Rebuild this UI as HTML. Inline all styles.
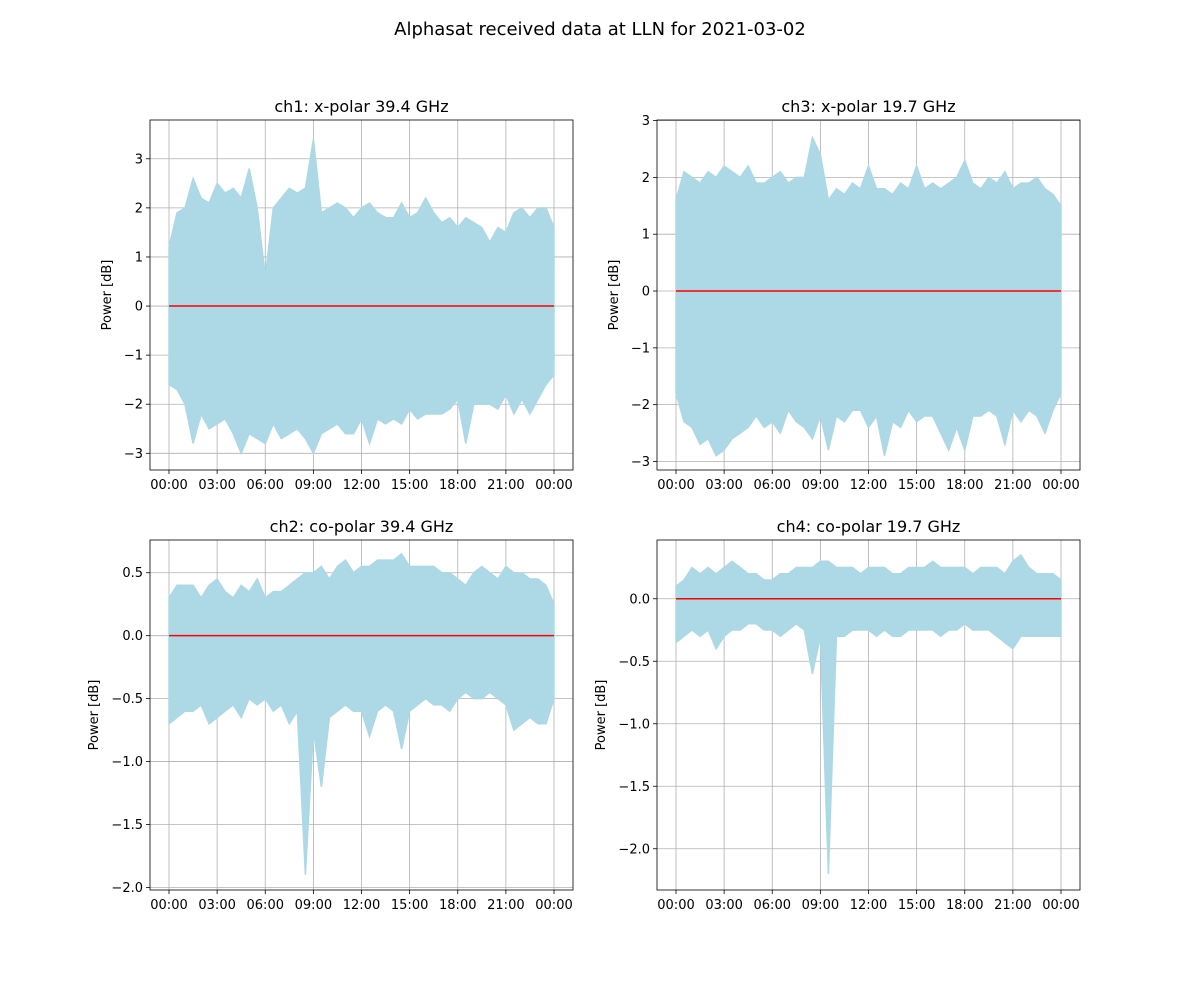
<!DOCTYPE html>
<html><head><meta charset="utf-8">
<style>
html,body{margin:0;padding:0;background:#fff;}
svg{display:block;font-family:"DejaVu Sans","Liberation Sans",sans-serif;}
</style></head>
<body>
<svg id="fig" width="1200" height="1000" viewBox="0 0 1200 1000">
<text x="600" y="35" font-size="18" text-anchor="middle">Alphasat received data at LLN for 2021-03-02</text>
</svg>
<script>
const hours = [];
for (let i = 0; i <= 48; i++) hours.push(i * 0.5);
const xTickLabels = ["00:00","03:00","06:00","09:00","12:00","15:00","18:00","21:00","00:00"];
const xTickHours = [0,3,6,9,12,15,18,21,24];

const ch1Upper = [1.2,1.9,2.0,2.6,2.2,2.1,2.5,2.3,2.4,2.2,2.8,2.0,0.6,2.0,2.2,2.4,2.3,2.4,3.4,1.9,2.0,2.1,2.0,1.8,2.0,2.1,1.9,1.8,1.8,2.1,1.8,1.9,2.2,1.9,1.7,1.8,1.6,1.8,1.7,1.6,1.3,1.6,1.5,1.9,2.0,1.8,2.0,2.0,1.6];
const ch1Lower = [-1.6,-1.7,-2.0,-2.8,-2.2,-2.5,-2.4,-2.3,-2.6,-3.0,-2.6,-2.7,-2.8,-2.4,-2.7,-2.6,-2.5,-2.7,-3.0,-2.6,-2.5,-2.4,-2.6,-2.6,-2.3,-2.8,-2.3,-2.4,-2.3,-2.4,-2.1,-2.3,-2.2,-2.2,-2.2,-2.1,-1.9,-2.8,-2.0,-2.0,-2.0,-2.1,-1.8,-2.2,-1.9,-2.2,-1.9,-1.6,-1.4];
const ch3Upper = [1.6,2.1,2.0,1.9,2.1,2.0,2.2,2.1,2.0,2.2,1.9,1.9,2.0,2.1,1.9,2.0,2.0,2.7,2.4,1.6,1.8,1.7,1.9,1.8,2.2,1.8,1.8,1.7,1.9,1.8,2.2,1.8,1.9,1.8,1.9,2.0,2.3,1.9,1.8,2.0,1.9,2.1,1.8,1.9,1.9,2.0,1.8,1.7,1.5];
const ch3Lower = [-1.8,-2.3,-2.4,-2.7,-2.6,-2.9,-2.8,-2.6,-2.5,-2.4,-2.2,-2.4,-2.3,-2.5,-2.1,-2.3,-2.4,-2.6,-2.2,-2.8,-2.2,-2.3,-2.1,-2.1,-2.4,-2.2,-2.9,-2.3,-2.4,-2.1,-2.3,-2.2,-2.2,-2.5,-2.8,-2.4,-2.8,-2.2,-2.2,-2.1,-2.2,-2.7,-2.1,-2.3,-2.1,-2.2,-2.5,-2.1,-1.8];
const ch2Upper = [0.3,0.4,0.4,0.4,0.3,0.4,0.45,0.35,0.3,0.4,0.35,0.45,0.3,0.35,0.35,0.4,0.45,0.5,0.5,0.55,0.45,0.55,0.6,0.5,0.55,0.55,0.6,0.6,0.6,0.65,0.55,0.55,0.55,0.55,0.5,0.5,0.45,0.4,0.5,0.55,0.5,0.45,0.55,0.5,0.5,0.45,0.45,0.4,0.25];
const ch2Lower = [-0.7,-0.65,-0.6,-0.6,-0.55,-0.7,-0.65,-0.6,-0.55,-0.65,-0.5,-0.55,-0.5,-0.6,-0.55,-0.7,-0.6,-1.9,-0.75,-1.2,-0.65,-0.6,-0.55,-0.6,-0.6,-0.8,-0.6,-0.55,-0.6,-0.9,-0.6,-0.55,-0.5,-0.55,-0.55,-0.6,-0.5,-0.45,-0.5,-0.5,-0.45,-0.5,-0.55,-0.75,-0.7,-0.65,-0.7,-0.7,-0.5];
const ch4Upper = [0.1,0.15,0.25,0.2,0.25,0.2,0.25,0.3,0.25,0.2,0.2,0.15,0.15,0.2,0.2,0.25,0.25,0.25,0.3,0.3,0.25,0.25,0.25,0.2,0.25,0.25,0.25,0.2,0.2,0.25,0.25,0.25,0.3,0.25,0.25,0.25,0.25,0.2,0.25,0.25,0.25,0.2,0.3,0.35,0.25,0.2,0.2,0.2,0.15];
const ch4Lower = [-0.35,-0.3,-0.25,-0.3,-0.25,-0.4,-0.3,-0.25,-0.25,-0.2,-0.2,-0.25,-0.25,-0.3,-0.25,-0.2,-0.25,-0.6,-0.3,-2.2,-0.3,-0.3,-0.25,-0.25,-0.25,-0.3,-0.25,-0.3,-0.3,-0.25,-0.25,-0.25,-0.25,-0.3,-0.25,-0.25,-0.2,-0.25,-0.25,-0.25,-0.3,-0.35,-0.4,-0.3,-0.3,-0.3,-0.3,-0.3,-0.3];
const ch1Ticks = [-3,-2,-1,0,1,2,3];
const ch3Ticks = [-3,-2,-1,0,1,2,3];
const ch2Ticks = [-2.0,-1.5,-1.0,-0.5,0.0,0.5];
const ch4Ticks = [-2.0,-1.5,-1.0,-0.5,0.0];

const NS = "http://www.w3.org/2000/svg";
const fig = document.getElementById("fig");
function mk(tag, attrs, parent) {
  const e = document.createElementNS(NS, tag);
  for (const k in attrs) e.setAttribute(k, attrs[k]);
  (parent || fig).appendChild(e);
  return e;
}

function panel(key, title, left, top, yMin, yMax, ticks, dec, upper, lower) {
  const W = 423, H = 350;
  const g = mk("g", {});
  
  
  const x0 = left + 19, x1 = left + 404;
  const xs = h => x0 + (x1 - x0) * h / 24;
  const ys = v => top + H - (v - yMin) / (yMax - yMin) * H;
  xTickHours.forEach((h, i) => {
    const gl = mk("line", {x1: xs(h), x2: xs(h), y1: top, y2: top + H, stroke: "#b0b0b0", "stroke-width": 0.8}, g);
    
    
    mk("line", {x1: xs(h), x2: xs(h), y1: top + H, y2: top + H + 4, stroke: "#000", "stroke-width": 0.8}, g);
    const t = mk("text", {x: xs(h), y: top + H + 19, "font-size": 13, "text-anchor": "middle"}, g);
    t.textContent = xTickLabels[i];
    
    
  });
  ticks.forEach(v => {
    const gl = mk("line", {x1: left, x2: left + W, y1: ys(v), y2: ys(v), stroke: "#b0b0b0", "stroke-width": 0.8}, g);
    
    
    mk("line", {x1: left - 4, x2: left, y1: ys(v), y2: ys(v), stroke: "#000", "stroke-width": 0.8}, g);
    const t = mk("text", {x: left - 7, y: ys(v) + 4.5, "font-size": 13, "text-anchor": "end"}, g);
    t.textContent = v < 0 ? "\u2212" + Math.abs(v).toFixed(dec) : v.toFixed(dec);
    
    
  });
  let pts = [];
  hours.forEach((h, i) => pts.push(xs(h).toFixed(1) + "," + ys(upper[i]).toFixed(1)));
  for (let i = hours.length - 1; i >= 0; i--) pts.push(xs(hours[i]).toFixed(1) + "," + ys(lower[i]).toFixed(1));
  const band = mk("polygon", {points: pts.join(" "), fill: "#add8e6", stroke: "#add8e6", "stroke-width": 1.5, "stroke-linejoin": "miter"}, g);
  
  
  const zl = mk("line", {x1: xs(0), x2: xs(24), y1: ys(0), y2: ys(0), stroke: "red", "stroke-width": 1.5}, g);
  
  
  const fr = mk("rect", {x: left, y: top, width: W, height: H, fill: "none", stroke: "#000", "stroke-width": 0.8}, g);
  
  
  const tt = mk("text", {x: left + W / 2, y: top - 8, "font-size": 16, "text-anchor": "middle"}, g);
  tt.textContent = title;
  
  
  const maxLen = Math.max(...ticks.map(v => (v < 0 ? 1 : 0) + Math.abs(v).toFixed(dec).length));
  const lx = left - 26 - maxLen * 6.5;
  const yl = mk("text", {x: lx, y: top + H / 2, "font-size": 13, "text-anchor": "middle", transform: `rotate(-90 ${lx} ${top + H / 2})`}, g);
  yl.textContent = "Power [dB]";
  
  
}

panel("ch1", "ch1: x-polar 39.4 GHz", 150, 120, -3.34, 3.79, ch1Ticks, 0, ch1Upper, ch1Lower);
panel("ch3", "ch3: x-polar 19.7 GHz", 657, 120, -3.15, 3.01, ch3Ticks, 0, ch3Upper, ch3Lower);
panel("ch2", "ch2: co-polar 39.4 GHz", 150, 540, -2.02, 0.76, ch2Ticks, 1, ch2Upper, ch2Lower);
panel("ch4", "ch4: co-polar 19.7 GHz", 657, 540, -2.33, 0.47, ch4Ticks, 1, ch4Upper, ch4Lower);
</script>
</body></html>
